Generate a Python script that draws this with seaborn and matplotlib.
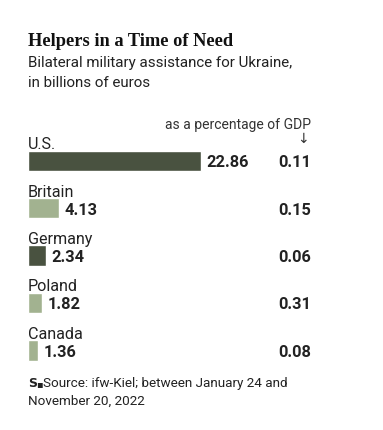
import matplotlib
matplotlib.use("Agg")
import matplotlib.pyplot as plt
import seaborn as sns
import pandas as pd

# Daten: Militärhilfe in Mrd. Euro und Anteil am BIP
countries = ["U.S.", "Britain", "Germany", "Poland", "Canada"]
aid_bn_eur = [22.86, 4.13, 2.34, 1.82, 1.36]
pct_gdp = ["0.11", "0.15", "0.06", "0.31", "0.08"]
bar_colors = ["#495240", "#a2b290", "#495240", "#a2b290", "#a2b290"]

df = pd.DataFrame({"country": countries, "aid": aid_bn_eur})

sns.set_theme(style="white")
plt.rcParams["font.family"] = ["Roboto", "DejaVu Sans"]

W, H = 383, 431
fig = plt.figure(figsize=(W / 100, H / 100), dpi=100)

# Achse in Pixelkoordinaten platzieren
left_px, right_px = 28, 331
top_px, bot_px = 124, 375
ax = fig.add_axes([left_px / W, 1 - bot_px / H, (right_px - left_px) / W, (bot_px - top_px) / H])

sns.barplot(data=df, x="aid", y="country", hue="country", palette=bar_colors,
            legend=False, width=0.43, ax=ax, saturation=1)

ax.set_xlim(0, 40)
ax.set_ylim(4.5, -0.8)
ax.set_axis_off()

gdp_x = 37.4
for i, (name, val, pct) in enumerate(zip(countries, aid_bn_eur, pct_gdp)):
    ax.text(0, i - 0.36, name, fontsize=11.6, color="#222222", va="center", ha="left")
    ax.text(val + 0.75, i + 0.02, f"{val:.2f}", fontsize=11.8, fontweight="bold",
            color="#222222", va="center", ha="left")
    ax.text(gdp_x, i + 0.02, pct, fontsize=11.8, fontweight="bold",
            color="#222222", va="center", ha="right")

ax.text(gdp_x, -0.78, "as a percentage of GDP", fontsize=10, color="#333333",
        va="center", ha="right")
ax.text(gdp_x - 0.3, -0.48, "↓", fontsize=10, color="#333333", va="center", ha="right",
        family="DejaVu Sans")

# Titel und Untertitel
fig.text(28 / W, 1 - 41 / H, "Helpers in a Time of Need", fontsize=13.2,
         fontweight="bold", family="Liberation Serif", color="#111111", va="center")
fig.text(28 / W, 1 - 63 / H, "Bilateral military assistance for Ukraine,", fontsize=10.9,
         color="#222222", va="center")
fig.text(28 / W, 1 - 83 / H, "in billions of euros", fontsize=10.9,
         color="#222222", va="center")

# Quelle
fig.text(28 / W, 1 - 384 / H, "S", fontsize=9, fontweight="bold", color="#222222",
         va="center", family="DejaVu Sans")
fig.text(36 / W, 1 - 384 / H, "▪", fontsize=7, color="#222222", va="center",
         family="DejaVu Sans")
fig.text(43 / W, 1 - 384 / H, "Source: ifw-Kiel; between January 24 and", fontsize=9.7,
         color="#222222", va="center")
fig.text(28 / W, 1 - 401 / H, "November 20, 2022", fontsize=9.7,
         color="#222222", va="center")

fig.savefig("out.png", dpi=100, facecolor="white")
